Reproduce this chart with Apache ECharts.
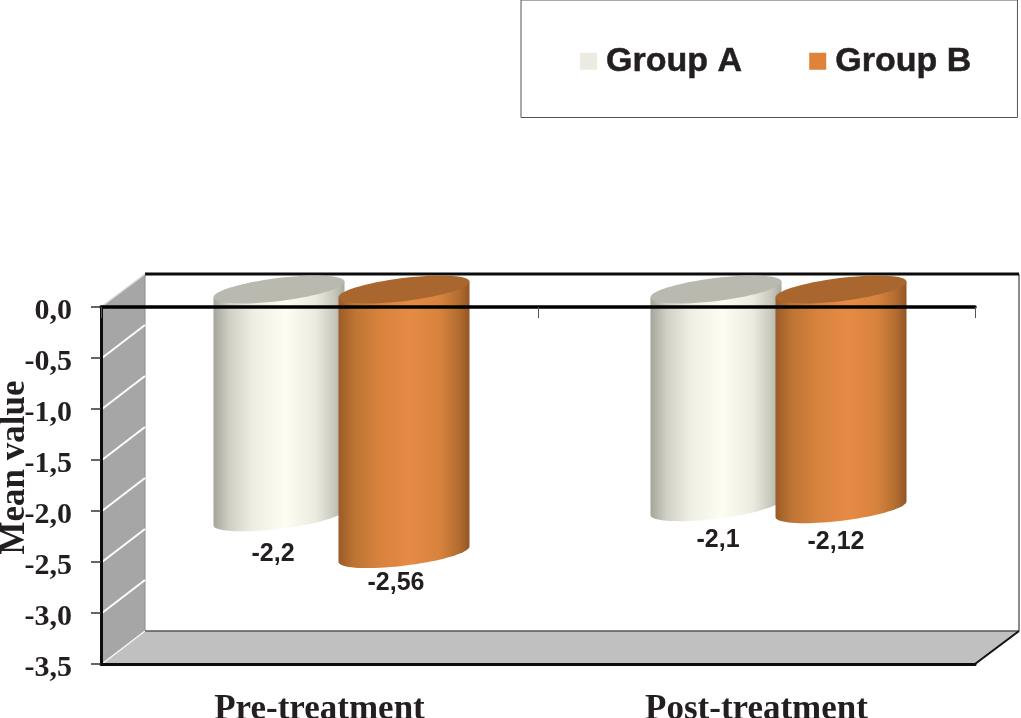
<!DOCTYPE html>
<html>
<head>
<meta charset="utf-8">
<style>html,body{margin:0;padding:0;background:#fff}#chart{width:1021px;height:718px}</style>
<script src="https://cdn.jsdelivr.net/npm/echarts@6/dist/echarts.min.js"></script>
</head>
<body>
<div id="chart"></div>
<script>
var categories = ['Pre-treatment', 'Post-treatment'];
var groupA = [-2.2, -2.1];
var groupB = [-2.56, -2.12];
var groupALabels = ['-2,2', '-2,1'];
var groupBLabels = ['-2,56', '-2,12'];
var yTicks = [0, -0.5, -1, -1.5, -2, -2.5, -3, -3.5];

var DX = 44, DY = -33;
var BAR_OFFSET = 62.5, DEPTH_SHIFT = 22;
var RX = 66, RY = 11.5, TILT = -7 * Math.PI / 180;
var NUDGE_A = [[-1, 3], [7, -1]];
var NUDGE_B = [[-3, -5], [0, -1]];

function ellipsePt(cx, cy, t) {
  var x = RX * Math.cos(t), y = RY * Math.sin(t);
  return [cx + x * Math.cos(TILT) - y * Math.sin(TILT), cy + x * Math.sin(TILT) + y * Math.cos(TILT)];
}
function arc(cx, cy, a, b, n) {
  var out = [];
  for (var i = 0; i <= n; i++) out.push(ellipsePt(cx, cy, a + (b - a) * i / n));
  return out;
}
function hGrad(stops) {
  return new echarts.graphic.LinearGradient(0, 0, 1, 0, stops.map(function (s) { return { offset: s[0], color: s[1] }; }));
}

function cylinderSeries(name, values, labels, nudge, sign, swatch, capColor, stops) {
  return {
    name: name,
    type: 'custom',
    coordinateSystem: 'cartesian2d',
    z: 3,
    itemStyle: { color: swatch },
    encode: { x: 0, y: 1 },
    data: values.map(function (v, i) { return [i, v]; }),
    renderItem: function (params, api) {
      var base = api.coord([api.value(0), api.value(1)]);
      var zero = api.coord([api.value(0), 0]);
      var cx = base[0] + DEPTH_SHIFT + sign * BAR_OFFSET;
      var topY = zero[1] - 17.5;
      var botY = base[1] - 14;
      var pts = [ellipsePt(cx, topY, Math.PI)];
      pts = pts.concat(arc(cx, botY, Math.PI, 0, 40));
      pts.push(ellipsePt(cx, topY, 0));
      var cap = arc(cx, topY, 0, Math.PI * 2, 60);
      var n = nudge[params.dataIndex];
      return {
        type: 'group',
        children: [
          { type: 'polygon', shape: { points: pts }, style: { fill: hGrad(stops) } },
          { type: 'polygon', shape: { points: cap }, style: { fill: capColor } },
          {
            type: 'text',
            style: {
              text: labels[params.dataIndex], x: cx - 5 + n[0], y: base[1] + 20 + n[1],
              align: 'center', verticalAlign: 'middle',
              font: 'bold 25px "Liberation Sans", Arial, sans-serif', fill: '#231f20'
            }
          }
        ]
      };
    }
  };
}

var wallSeries = {
  name: 'walls',
  type: 'custom',
  coordinateSystem: 'cartesian2d',
  z: 1,
  silent: true,
  encode: { y: 0 },
  data: yTicks.map(function (v) { return [v]; }),
  renderItem: function (params, api) {
    var r = params.coordSys;
    var L = r.x, R = r.x + r.width, T = r.y, B = r.y + r.height;
    var y = api.coord([0, api.value(0)])[1];
    var kids = [];
    if (params.dataIndex === 0) {
      kids.push(
        { type: 'polygon', shape: { points: [[L + DX, T + DY], [R + DX, T + DY], [R + DX, B + DY], [L + DX, B + DY]] }, style: { fill: '#ffffff' } },
        { type: 'polygon', shape: { points: [[L, T], [L + DX, T + DY], [L + DX, B + DY], [L, B]] }, style: { fill: '#a6a6a6' } },
        { type: 'polygon', shape: { points: [[L, B], [L + DX, B + DY], [R + DX, B + DY], [R, B]] }, style: { fill: '#c0c0c0' } },
        { type: 'line', shape: { x1: L + DX, y1: T + DY, x2: L + DX, y2: B + DY }, style: { stroke: '#8c8c8c', lineWidth: 1 } },
        { type: 'line', shape: { x1: L + DX, y1: B + DY, x2: R + DX, y2: B + DY }, style: { stroke: '#555555', lineWidth: 1.5 } },
        { type: 'line', shape: { x1: R + DX, y1: T + DY, x2: R + DX, y2: B + DY }, style: { stroke: '#8c8c8c', lineWidth: 2 } },
        { type: 'line', shape: { x1: R, y1: B, x2: R + DX, y2: B + DY }, style: { stroke: '#111111', lineWidth: 2 } },
        { type: 'line', shape: { x1: L + DX, y1: T + DY, x2: R + DX, y2: T + DY }, style: { stroke: '#0c0c0c', lineWidth: 3 } }
      );
    }
    if (y > T + 1 && y < B - 1) {
      kids.push({ type: 'line', shape: { x1: L + 1, y1: y, x2: L + DX, y2: y + DY }, style: { stroke: '#ffffff', lineWidth: 2 } });
    } else if (y <= T + 1) {
      kids.push({ type: 'line', shape: { x1: L, y1: y, x2: L + DX, y2: y + DY }, style: { stroke: '#dcdcdc', lineWidth: 1.5 } });
    } else {
      kids.push({ type: 'line', shape: { x1: L + 1, y1: y, x2: L + DX, y2: y + DY }, style: { stroke: '#f4f4f4', lineWidth: 1.5 } });
    }
    return { type: 'group', children: kids };
  }
};

var stopsA = [[0, '#a4a49a'], [0.12, '#cfcfc5'], [0.3, '#eeeee2'], [0.55, '#fdfdf1'], [0.78, '#ecebdf'], [0.92, '#c8c8bd'], [1, '#a9a99f']];
var stopsB = [[0, '#9a5b28'], [0.12, '#bd7433'], [0.3, '#d6823d'], [0.55, '#e68b45'], [0.78, '#d6823d'], [0.92, '#b26c30'], [1, '#935626']];

var option = {
  animation: false,
  backgroundColor: '#ffffff',
  grid: { left: 101, top: 307, width: 874, height: 357, containLabel: false, outerBoundsMode: 'none' },
  legend: {
    left: 521, top: 0,
    padding: [44, 46, 39, 59],
    borderColor: '#555555', borderWidth: 1,
    itemWidth: 17, itemHeight: 17, itemGap: 67,
    icon: 'rect',
    data: [
      { name: 'Group A', itemStyle: { color: '#ecebe1' } },
      { name: 'Group B', itemStyle: { color: '#df8338' } }
    ],
    textStyle: { fontFamily: '"Liberation Sans", Arial, sans-serif', fontWeight: 'bold', fontSize: 34, color: '#231f20', padding: [0, 0, 0, 4], textBorderColor: '#231f20', textBorderWidth: 0.5 }
  },
  xAxis: [
    {
      type: 'category', data: categories, position: 'bottom',
      axisLine: { onZero: false, lineStyle: { color: '#0c0c0c', width: 3 } },
      axisTick: { show: false },
      axisLabel: { margin: 28, fontFamily: '"Liberation Serif", "Times New Roman", serif', fontWeight: 'bold', fontSize: 35, color: '#231f20', interval: 0, hideOverlap: false },
      z: 5
    },
    {
      type: 'category', data: categories, position: 'top',
      axisLine: { onZero: false, lineStyle: { color: '#000000', width: 3.5 } },
      axisTick: { show: true, inside: true, length: 11, lineStyle: { color: '#555555', width: 1 } },
      axisLabel: { show: false },
      z: 5
    }
  ],
  yAxis: {
    type: 'value', min: -3.5, max: 0, interval: 0.5,
    name: 'Mean value', nameLocation: 'middle', nameGap: 69, nameRotate: 90, nameMoveOverlap: false,
    nameTextStyle: { fontFamily: '"Liberation Serif", "Times New Roman", serif', fontWeight: 'bold', fontSize: 35, color: '#231f20', padding: [0, 0, 0, 36] },
    axisLine: { show: true, onZero: false, lineStyle: { color: '#0c0c0c', width: 3 } },
    axisTick: { show: true, length: 10, lineStyle: { color: '#333333', width: 1.5 } },
    axisLabel: {
      margin: 29, verticalAlign: 'top', lineHeight: 8, fontFamily: '"Liberation Serif", "Times New Roman", serif', fontWeight: 'bold', fontSize: 30, color: '#231f20',
      formatter: function (v) { return v.toFixed(1).replace('.', ','); }
    },
    splitLine: { show: false },
    z: 5
  },
  series: [
    wallSeries,
    cylinderSeries('Group A', groupA, groupALabels, NUDGE_A, -1, '#ecebe1', '#b9b9b0', stopsA),
    cylinderSeries('Group B', groupB, groupBLabels, NUDGE_B, 1, '#df8338', '#a9672f', stopsB)
  ]
};
var chart = echarts.init(document.getElementById('chart'), null, { renderer: 'canvas' });
chart.setOption(option);
</script>
</body>
</html>
